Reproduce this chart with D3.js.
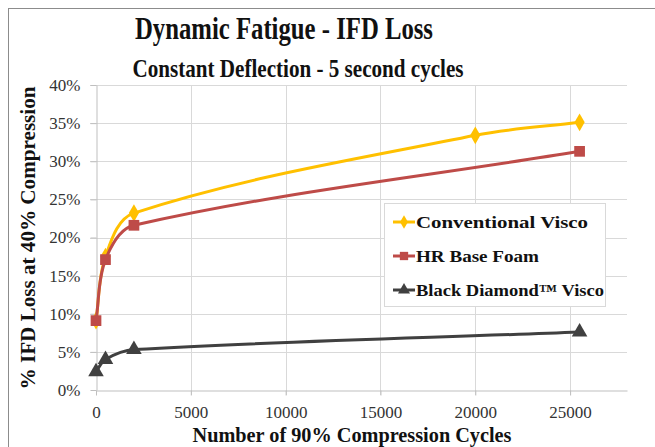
<!DOCTYPE html>
<html>
<head>
<meta charset="utf-8">
<script src="https://cdn.jsdelivr.net/npm/d3@7"></script>
<style>
  body { margin: 0; background: #fff; }
  text { font-family: "Liberation Serif", "DejaVu Serif", serif; }
</style>
</head>
<body>
<div id="viz_container"></div>
<script>
// data
const seriesNames = ["Conventional Visco", "HR Base Foam", "Black Diamond\u2122 Visco"];
const conventionalCycles = [0, 500, 2000, 20000, 25500];
const conventionalLoss = [0.091, 0.175, 0.232, 0.334, 0.351];
const hrCycles = [0, 500, 2000, 25500];
const hrLoss = [0.091, 0.171, 0.216, 0.313];
const blackCycles = [0, 500, 2000, 25500];
const blackLoss = [0.024, 0.040, 0.053, 0.076];
const xTicks = [0, 5000, 10000, 15000, 20000, 25000];
const yTicks = [0, 0.05, 0.10, 0.15, 0.20, 0.25, 0.30, 0.35, 0.40];

const W = 655, H = 447;
const margin = { top: 85, right: 28, bottom: 57, left: 96 };
const width = W - margin.left - margin.right;
const height = H - margin.top - margin.bottom;

const svg = d3.select("#viz_container")
    .append("svg")
    .attr("width", W)
    .attr("height", H);

// chart border (cut off at the right and bottom)
svg.append("rect")
    .attr("x", 8.5).attr("y", 8.5)
    .attr("width", 700).attr("height", 500)
    .attr("fill", "#fff")
    .attr("stroke", "#8c8c8c");

const g = svg.append("g")
    .attr("transform", `translate(${margin.left}, ${margin.top})`);

const x = d3.scaleLinear().domain([0, 28000]).range([0, width]);
const y = d3.scaleLinear().domain([0, 0.40]).range([height, 0]);

// gridlines
g.append("g")
    .selectAll("line")
    .data(yTicks.slice(1))
    .join("line")
    .attr("x1", -6).attr("x2", width)
    .attr("y1", d => Math.round(y(d)) + 0.5).attr("y2", d => Math.round(y(d)) + 0.5)
    .attr("stroke", "#d9d9d9");
g.append("g")
    .selectAll("line")
    .data(xTicks.slice(1))
    .join("line")
    .attr("x1", d => Math.round(x(d)) + 0.5).attr("x2", d => Math.round(x(d)) + 0.5)
    .attr("y1", 0).attr("y2", height + 5)
    .attr("stroke", "#d9d9d9");

// axes
g.append("g")
    .attr("transform", `translate(0, ${height + 0.5})`)
    .call(d3.axisBottom(x).tickValues(xTicks).tickFormat(d3.format("d")).tickSize(5).tickSizeOuter(0).tickPadding(10))
    .call(a => a.select(".domain").attr("stroke", "#bfbfbf"))
    .call(a => a.selectAll(".tick line").attr("stroke", "#bfbfbf"))
    .call(a => a.selectAll("text").attr("fill", "#333").style("font-size", "17px").style("font-family", "Liberation Serif, serif"));

g.append("g")
    .attr("transform", "translate(0.5, 0)")
    .call(d3.axisLeft(y).tickValues(yTicks).tickFormat(d3.format(".0%")).tickSize(6).tickSizeOuter(0).tickPadding(10))
    .call(a => a.select(".domain").attr("stroke", "#bfbfbf"))
    .call(a => a.selectAll(".tick line").attr("stroke", "#bfbfbf"))
    .call(a => a.selectAll("text").attr("fill", "#333").style("font-size", "17px").style("font-family", "Liberation Serif, serif"));

const series = [
    { name: seriesNames[0], xs: conventionalCycles, ys: conventionalLoss, color: "#ffc000", marker: d3.symbolDiamond, size: 90 },
    { name: seriesNames[1], xs: hrCycles, ys: hrLoss, color: "#be4b48", marker: d3.symbolSquare, size: 115 },
    { name: seriesNames[2], xs: blackCycles, ys: blackLoss, color: "#404040", marker: d3.symbolTriangle, size: 105 }
];

// excel-like smoothing: tangent direction from neighbours, length from each segment
function smoothLine(pts) {
    const p = d3.path();
    const unit = (a, b) => {
        const dx = b[0] - a[0], dy = b[1] - a[1];
        const l = Math.hypot(dx, dy) || 1;
        return [dx / l, dy / l];
    };
    p.moveTo(pts[0][0], pts[0][1]);
    for (let i = 0; i < pts.length - 1; i++) {
        const a = pts[i], b = pts[i + 1];
        const prev = pts[i - 1] || a, next = pts[i + 2] || b;
        const len = Math.hypot(b[0] - a[0], b[1] - a[1]) / 3;
        const t1 = unit(prev, b), t2 = unit(a, next);
        p.bezierCurveTo(a[0] + t1[0] * len, a[1] + t1[1] * len,
                        b[0] - t2[0] * len, b[1] - t2[1] * len,
                        b[0], b[1]);
    }
    return p.toString();
}

series.forEach(s => {
    const pts = s.xs.map((v, j) => [v, s.ys[j]]);
    g.append("path")
        .datum(pts)
        .attr("fill", "none")
        .attr("stroke", s.color)
        .attr("stroke-width", 3)
        .attr("stroke-linejoin", "round")
        .attr("d", d => smoothLine(d.map(q => [x(q[0]), y(q[1])])));
    g.append("g")
        .selectAll("path")
        .data(pts)
        .join("path")
        .attr("transform", d => `translate(${x(d[0])}, ${y(d[1])})`)
        .attr("d", d3.symbol().type(s.marker).size(s.size))
        .attr("fill", s.color);
});

// legend
const lg = svg.append("g").attr("transform", "translate(384, 203)");
lg.append("rect")
    .attr("x", 0.5).attr("y", 0.5)
    .attr("width", 221).attr("height", 103)
    .attr("fill", "#fff")
    .attr("stroke", "#d9d9d9");
series.forEach((s, i) => {
    const cy = 19 + i * 34;
    lg.append("line")
        .attr("x1", 9).attr("x2", 31)
        .attr("y1", cy).attr("y2", cy)
        .attr("stroke", s.color).attr("stroke-width", 3);
    lg.append("path")
        .attr("transform", `translate(20, ${cy})`)
        .attr("d", d3.symbol().type(s.marker).size(s.size * 0.6))
        .attr("fill", s.color);
    lg.append("text")
        .attr("x", 32).attr("y", cy + 6)
        .attr("fill", "#111")
        .style("font-size", "17px")
        .style("font-weight", "bold")
        .attr("textLength", [172, 123, 188][i]).attr("lengthAdjust", "spacingAndGlyphs")
        .text(s.name);
});

// titles
svg.append("text")
    .attr("x", 284).attr("y", 39)
    .attr("text-anchor", "middle")
    .style("font-size", "31px").style("font-weight", "bold")
    .attr("fill", "#111")
    .attr("textLength", 298).attr("lengthAdjust", "spacingAndGlyphs")
    .text("Dynamic Fatigue - IFD Loss");
svg.append("text")
    .attr("x", 298).attr("y", 77)
    .attr("text-anchor", "middle")
    .style("font-size", "26px").style("font-weight", "bold")
    .attr("fill", "#111")
    .attr("textLength", 331).attr("lengthAdjust", "spacingAndGlyphs")
    .text("Constant Deflection - 5 second cycles");

svg.append("text")
    .attr("transform", "translate(35, 238) rotate(-90)")
    .attr("text-anchor", "middle")
    .style("font-size", "20px").style("font-weight", "bold")
    .attr("fill", "#111")
    .attr("textLength", 303).attr("lengthAdjust", "spacingAndGlyphs")
    .text("% IFD Loss at 40% Compression");
svg.append("text")
    .attr("x", 352).attr("y", 442)
    .attr("text-anchor", "middle")
    .style("font-size", "20px").style("font-weight", "bold")
    .attr("fill", "#111")
    .attr("textLength", 319).attr("lengthAdjust", "spacingAndGlyphs")
    .text("Number of 90% Compression Cycles");
</script>
</body>
</html>
